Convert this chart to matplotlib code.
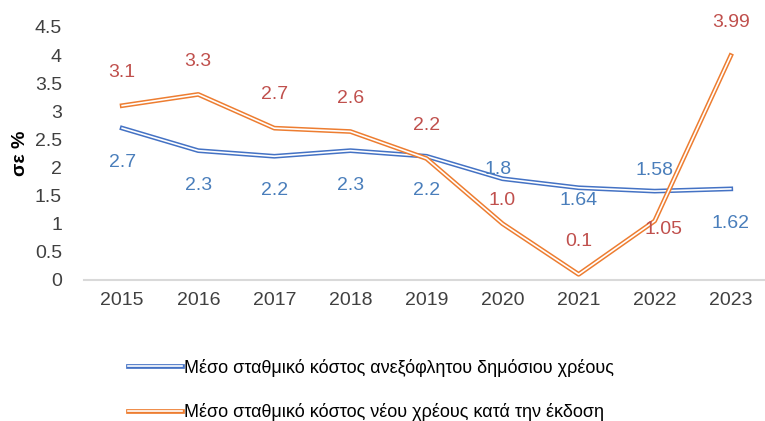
import matplotlib.pyplot as plt
import matplotlib.patheffects as pe
from matplotlib.lines import Line2D

years = ['2015', '2016', '2017', '2018', '2019', '2020', '2021', '2022', '2023']
outstanding = [2.7, 2.3, 2.2, 2.3, 2.2, 1.8, 1.64, 1.58, 1.62]
new_issue = [3.1, 3.3, 2.7, 2.64, 2.16, 1.0, 0.1, 1.05, 3.99]
outstanding_lbl = ['2.7', '2.3', '2.2', '2.3', '2.2', '1.8', '1.64', '1.58', '1.62']
new_issue_lbl = ['3.1', '3.3', '2.7', '2.6', '2.2', '1.0', '0.1', '1.05', '3.99']

series_names = ['Μέσο σταθμικό κόστος ανεξόφλητου δημόσιου χρέους',
                'Μέσο σταθμικό κόστος νέου χρέους κατά την έκδοση']

plt.rcParams['font.family'] = ['Liberation Sans', 'DejaVu Sans']

blue = '#4472C4'
orange = '#ED7D31'
blue_txt = '#4A7EBB'
red_txt = '#C0504D'

# label offsets in points (default below for blue, above for orange)
blue_off = {5: (-3, 7), 6: (0, -9), 7: (0, 15)}
orange_off = {5: (0, 17), 7: (6, -6)}

fig = plt.figure(figsize=(7.65, 4.21), dpi=100)
ax = fig.add_axes([0.11, 0.335, 0.89, 0.601])

x = list(range(len(years)))


def double_line(color):
    return [pe.Stroke(linewidth=3.4, foreground=color), pe.Stroke(linewidth=1.2, foreground='white')]


ax.plot(x, outstanding, color=blue, lw=3.4, path_effects=double_line(blue), zorder=3)
ax.plot(x, new_issue, color=orange, lw=3.4, path_effects=double_line(orange), zorder=4)

for i in x:
    ax.annotate(outstanding_lbl[i], (i, outstanding[i]), xytext=blue_off.get(i, (0, -25)),
                textcoords='offset points', ha='center', va='center', fontsize=14, color=blue_txt,
                zorder=5)
    ax.annotate(new_issue_lbl[i], (i, new_issue[i]), xytext=orange_off.get(i, (0, 24)),
                textcoords='offset points', ha='center', va='center', fontsize=14, color=red_txt,
                zorder=5)

ax.set_xlim(-0.5, 8.45)
ax.set_ylim(0, 4.5)
ax.set_xticks(x)
ax.set_xticklabels(years)
ax.set_yticks([0, 0.5, 1, 1.5, 2, 2.5, 3, 3.5, 4, 4.5])
ax.set_yticklabels(['0', '0.5', '1', '1.5', '2', '2.5', '3', '3.5', '4', '4.5'])
ax.tick_params(length=0, labelsize=14, colors='#404040')
ax.tick_params(axis='y', pad=16)
ax.tick_params(axis='x', pad=9)
for s in ['top', 'right', 'left']:
    ax.spines[s].set_visible(False)
ax.spines['bottom'].set_color('#D9D9D9')
ax.spines['bottom'].set_linewidth(1.5)
ax.set_ylabel('σε %', fontsize=14, fontweight='bold', labelpad=4)

handles = [Line2D([], [], color=blue, lw=3.4, path_effects=double_line(blue)),
           Line2D([], [], color=orange, lw=3.4, path_effects=double_line(orange))]
fig.legend(handles, series_names, loc='upper left', bbox_to_anchor=(0.158, 0.165), frameon=False,
           fontsize=13, handlelength=3.0, handletextpad=0.1, labelspacing=1.45, borderaxespad=0)

fig.savefig('out.png', dpi=100)
